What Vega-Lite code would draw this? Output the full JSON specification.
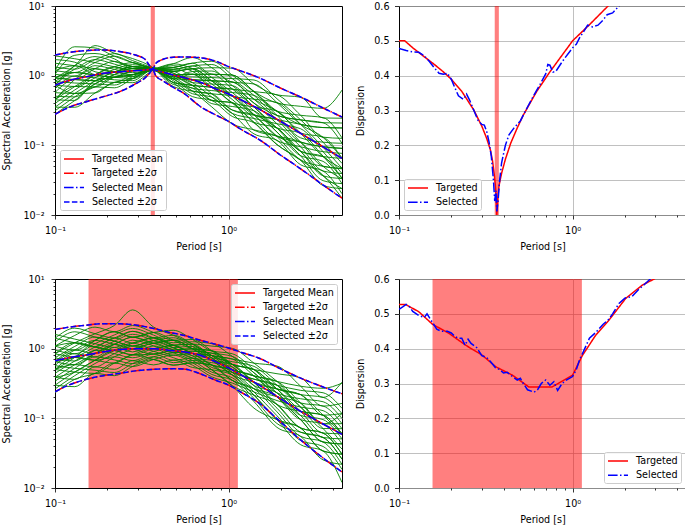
{
"$schema": "https://vega.github.io/schema/vega-lite/v6.json",
"background": "white",
"padding": {"left": 1, "top": 0, "right": 3, "bottom": 2},
"config": {
  "font": "DejaVu Sans",
  "view": {"stroke": "black", "strokeWidth": 1},
  "axis": {"domain": false, "tickColor": "black", "tickWidth": 0.8, "gridColor": "#b0b0b0", "gridWidth": 0.8, "labelFont": "DejaVu Sans", "labelFontSize": 9.6, "labelColor": "black", "titleFont": "DejaVu Sans", "titleFontSize": 9.6, "titleFontWeight": "normal", "titleColor": "black", "labelPadding": 6, "titlePadding": 6.5},
  "legend": {"title": null, "fillColor": "rgba(255,255,255,0.85)", "strokeColor": "#cccccc", "cornerRadius": 2, "padding": 3, "offset": 5, "symbolType": "M-1,0H3", "symbolSize": 100, "symbolStrokeWidth": 1.5, "labelFont": "DejaVu Sans", "labelFontSize": 9.6, "labelColor": "black", "rowPadding": 3.3, "labelOffset": 17}
},
"resolve": {"scale": {"color": "independent", "strokeDash": "independent"}, "legend": {"color": "independent", "strokeDash": "independent"}},
"datasets": {
"tlg": [
{"s":1,"t":0.1,"v":1.18},{"s":1,"t":0.13,"v":2.6},{"s":1,"t":0.17,"v":2.5},{"s":1,"t":0.22,"v":1.9},{"s":1,"t":0.28,"v":1.54},{"s":1,"t":0.365,"v":1.28},{"s":1,"t":0.48,"v":1.16},{"s":1,"t":0.62,"v":0.88},{"s":1,"t":0.8,"v":0.85},{"s":1,"t":1.05,"v":0.81},{"s":1,"t":1.4,"v":0.46},{"s":1,"t":1.9,"v":0.235},{"s":1,"t":2.6,"v":0.112},{"s":1,"t":3.5,"v":0.096},{"s":1,"t":4.5,"v":0.091},
{"s":2,"t":0.1,"v":0.45},{"s":2,"t":0.13,"v":0.7},{"s":2,"t":0.17,"v":0.69},{"s":2,"t":0.22,"v":0.95},{"s":2,"t":0.28,"v":1.03},{"s":2,"t":0.365,"v":1.22},{"s":2,"t":0.48,"v":0.79},{"s":2,"t":0.62,"v":0.5},{"s":2,"t":0.8,"v":0.44},{"s":2,"t":1.05,"v":0.26},{"s":2,"t":1.4,"v":0.21},{"s":2,"t":1.9,"v":0.103},{"s":2,"t":2.6,"v":0.061},{"s":2,"t":3.5,"v":0.037},{"s":2,"t":4.5,"v":0.0175},
{"s":3,"t":0.1,"v":0.93},{"s":3,"t":0.13,"v":0.88},{"s":3,"t":0.17,"v":1.26},{"s":3,"t":0.22,"v":1.6},{"s":3,"t":0.28,"v":1.35},{"s":3,"t":0.365,"v":1.25},{"s":3,"t":0.48,"v":1.31},{"s":3,"t":0.62,"v":1.51},{"s":3,"t":0.8,"v":1.05},{"s":3,"t":1.05,"v":1.02},{"s":3,"t":1.4,"v":0.59},{"s":3,"t":1.9,"v":0.31},{"s":3,"t":2.6,"v":0.27},{"s":3,"t":3.5,"v":0.25},{"s":3,"t":4.5,"v":0.128},
{"s":4,"t":0.1,"v":0.28},{"s":4,"t":0.13,"v":0.44},{"s":4,"t":0.17,"v":0.69},{"s":4,"t":0.22,"v":0.67},{"s":4,"t":0.28,"v":0.91},{"s":4,"t":0.365,"v":1.2},{"s":4,"t":0.48,"v":1.15},{"s":4,"t":0.62,"v":1.26},{"s":4,"t":0.8,"v":0.84},{"s":4,"t":1.05,"v":0.51},{"s":4,"t":1.4,"v":0.46},{"s":4,"t":1.9,"v":0.41},{"s":4,"t":2.6,"v":0.2},{"s":4,"t":3.5,"v":0.094},{"s":4,"t":4.5,"v":0.047},
{"s":5,"t":0.1,"v":0.73},{"s":5,"t":0.13,"v":1.11},{"s":5,"t":0.17,"v":1.03},{"s":5,"t":0.22,"v":0.95},{"s":5,"t":0.28,"v":1.18},{"s":5,"t":0.365,"v":1.3},{"s":5,"t":0.48,"v":0.9},{"s":5,"t":0.62,"v":0.87},{"s":5,"t":0.8,"v":0.55},{"s":5,"t":1.05,"v":0.32},{"s":5,"t":1.4,"v":0.27},{"s":5,"t":1.9,"v":0.235},{"s":5,"t":2.6,"v":0.2},{"s":5,"t":3.5,"v":0.18},{"s":5,"t":4.5,"v":0.178},
{"s":6,"t":0.1,"v":1.51},{"s":6,"t":0.13,"v":1.39},{"s":6,"t":0.17,"v":1.26},{"s":6,"t":0.22,"v":1.13},{"s":6,"t":0.28,"v":1.35},{"s":6,"t":0.365,"v":1.26},{"s":6,"t":0.48,"v":1.02},{"s":6,"t":0.62,"v":0.72},{"s":6,"t":0.8,"v":0.44},{"s":6,"t":1.05,"v":0.41},{"s":6,"t":1.4,"v":0.165},{"s":6,"t":1.9,"v":0.136},{"s":6,"t":2.6,"v":0.11},{"s":6,"t":3.5,"v":0.05},{"s":6,"t":4.5,"v":0.033},
{"s":7,"t":0.1,"v":0.57},{"s":7,"t":0.13,"v":0.556},{"s":7,"t":0.17,"v":0.565},{"s":7,"t":0.22,"v":0.8},{"s":7,"t":0.28,"v":0.793},{"s":7,"t":0.365,"v":1.19},{"s":7,"t":0.48,"v":1.48},{"s":7,"t":0.62,"v":1.82},{"s":7,"t":0.8,"v":1.3},{"s":7,"t":1.05,"v":0.81},{"s":7,"t":1.4,"v":0.76},{"s":7,"t":1.9,"v":0.41},{"s":7,"t":2.6,"v":0.2},{"s":7,"t":3.5,"v":0.13},{"s":7,"t":4.5,"v":0.066},
{"s":8,"t":0.1,"v":0.93},{"s":8,"t":0.13,"v":1.39},{"s":8,"t":0.17,"v":2.7},{"s":8,"t":0.22,"v":2.1},{"s":8,"t":0.28,"v":1.76},{"s":8,"t":0.365,"v":1.31},{"s":8,"t":0.48,"v":0.7},{"s":8,"t":0.62,"v":0.6},{"s":8,"t":0.8,"v":0.55},{"s":8,"t":1.05,"v":0.51},{"s":8,"t":1.4,"v":0.275},{"s":8,"t":1.9,"v":0.134},{"s":8,"t":2.6,"v":0.062},{"s":8,"t":3.5,"v":0.05},{"s":8,"t":4.5,"v":0.046},
{"s":9,"t":0.1,"v":0.353},{"s":9,"t":0.13,"v":0.556},{"s":9,"t":0.17,"v":0.843},{"s":9,"t":0.22,"v":1.13},{"s":9,"t":0.28,"v":1.35},{"s":9,"t":0.365,"v":1.24},{"s":9,"t":0.48,"v":1.03},{"s":9,"t":0.62,"v":1.05},{"s":9,"t":0.8,"v":0.68},{"s":9,"t":1.05,"v":0.64},{"s":9,"t":1.4,"v":0.59},{"s":9,"t":1.9,"v":0.53},{"s":9,"t":2.6,"v":0.27},{"s":9,"t":3.5,"v":0.131},{"s":9,"t":4.5,"v":0.126},
{"s":10,"t":0.1,"v":0.73},{"s":10,"t":0.13,"v":0.7},{"s":10,"t":0.17,"v":1.03},{"s":10,"t":0.22,"v":1.34},{"s":10,"t":0.28,"v":1.18},{"s":10,"t":0.365,"v":1.27},{"s":10,"t":0.48,"v":1.3},{"s":10,"t":0.62,"v":1.04},{"s":10,"t":0.8,"v":1.05},{"s":10,"t":1.05,"v":0.645},{"s":10,"t":1.4,"v":0.355},{"s":10,"t":1.9,"v":0.178},{"s":10,"t":2.6,"v":0.149},{"s":10,"t":3.5,"v":0.07},{"s":10,"t":4.5,"v":0.034},
{"s":11,"t":0.1,"v":0.45},{"s":11,"t":0.13,"v":0.88},{"s":11,"t":0.17,"v":1.26},{"s":11,"t":0.22,"v":1.13},{"s":11,"t":0.28,"v":1.03},{"s":11,"t":0.365,"v":1.23},{"s":11,"t":0.48,"v":0.9},{"s":11,"t":0.62,"v":0.6},{"s":11,"t":0.8,"v":0.356},{"s":11,"t":1.05,"v":0.204},{"s":11,"t":1.4,"v":0.167},{"s":11,"t":1.9,"v":0.135},{"s":11,"t":2.6,"v":0.082},{"s":11,"t":3.5,"v":0.0365},{"s":11,"t":4.5,"v":0.024},
{"s":12,"t":0.1,"v":1.18},{"s":12,"t":0.13,"v":1.11},{"s":12,"t":0.17,"v":1.54},{"s":12,"t":0.22,"v":1.9},{"s":12,"t":0.28,"v":1.54},{"s":12,"t":0.365,"v":1.29},{"s":12,"t":0.48,"v":1.16},{"s":12,"t":0.62,"v":1.26},{"s":12,"t":0.8,"v":1.3},{"s":12,"t":1.05,"v":1.28},{"s":12,"t":1.4,"v":0.76},{"s":12,"t":1.9,"v":0.53},{"s":12,"t":2.6,"v":0.49},{"s":12,"t":3.5,"v":0.247},{"s":12,"t":4.5,"v":0.245},
{"s":13,"t":0.1,"v":0.573},{"s":13,"t":0.13,"v":0.879},{"s":13,"t":0.17,"v":0.843},{"s":13,"t":0.22,"v":0.8},{"s":13,"t":0.28,"v":1.034},{"s":13,"t":0.365,"v":1.21},{"s":13,"t":0.48,"v":1.01},{"s":13,"t":0.62,"v":0.73},{"s":13,"t":0.8,"v":0.68},{"s":13,"t":1.05,"v":0.41},{"s":13,"t":1.4,"v":0.356},{"s":13,"t":1.9,"v":0.31},{"s":13,"t":2.6,"v":0.15},{"s":13,"t":3.5,"v":0.131},{"s":13,"t":4.5,"v":0.065},
{"s":14,"t":0.1,"v":1.92},{"s":14,"t":0.13,"v":1.75},{"s":14,"t":0.17,"v":1.54},{"s":14,"t":0.22,"v":1.34},{"s":14,"t":0.28,"v":1.18},{"s":14,"t":0.365,"v":1.25},{"s":14,"t":0.48,"v":1.15},{"s":14,"t":0.62,"v":1.25},{"s":14,"t":0.8,"v":0.84},{"s":14,"t":1.05,"v":0.51},{"s":14,"t":1.4,"v":0.275},{"s":14,"t":1.9,"v":0.136},{"s":14,"t":2.6,"v":0.111},{"s":14,"t":3.5,"v":0.095},{"s":14,"t":4.5,"v":0.09},
{"s":15,"t":0.1,"v":0.353},{"s":15,"t":0.13,"v":0.352},{"s":15,"t":0.17,"v":0.565},{"s":15,"t":0.22,"v":0.8},{"s":15,"t":0.28,"v":0.906},{"s":15,"t":0.365,"v":1.2},{"s":15,"t":0.48,"v":0.8},{"s":15,"t":0.62,"v":0.72},{"s":15,"t":0.8,"v":0.445},{"s":15,"t":1.05,"v":0.405},{"s":15,"t":1.4,"v":0.214},{"s":15,"t":1.9,"v":0.177},{"s":15,"t":2.6,"v":0.082},{"s":15,"t":3.5,"v":0.069},{"s":15,"t":4.5,"v":0.0335},
{"s":16,"t":0.1,"v":0.929},{"s":16,"t":0.13,"v":1.107},{"s":16,"t":0.17,"v":1.03},{"s":16,"t":0.22,"v":1.13},{"s":16,"t":0.28,"v":1.349},{"s":16,"t":0.365,"v":1.27},{"s":16,"t":0.48,"v":1.48},{"s":16,"t":0.62,"v":1.26},{"s":16,"t":0.8,"v":0.845},{"s":16,"t":1.05,"v":0.81},{"s":16,"t":1.4,"v":0.458},{"s":16,"t":1.9,"v":0.308},{"s":16,"t":2.6,"v":0.149},{"s":16,"t":3.5,"v":0.069},{"s":16,"t":4.5,"v":0.0466},
{"s":17,"t":0.1,"v":0.73},{"s":17,"t":0.13,"v":1.39},{"s":17,"t":0.17,"v":1.879},{"s":17,"t":0.22,"v":1.596},{"s":17,"t":0.28,"v":1.349},{"s":17,"t":0.365,"v":1.3},{"s":17,"t":0.48,"v":0.9},{"s":17,"t":0.62,"v":0.6},{"s":17,"t":0.8,"v":0.548},{"s":17,"t":1.05,"v":0.322},{"s":17,"t":1.4,"v":0.275},{"s":17,"t":1.9,"v":0.177},{"s":17,"t":2.6,"v":0.0822},{"s":17,"t":3.5,"v":0.0365},{"s":17,"t":4.5,"v":0.0333},
{"s":18,"t":0.1,"v":0.45},{"s":18,"t":0.13,"v":0.442},{"s":18,"t":0.17,"v":0.843},{"s":18,"t":0.22,"v":0.95},{"s":18,"t":0.28,"v":1.18},{"s":18,"t":0.365,"v":1.24},{"s":18,"t":0.48,"v":1.02},{"s":18,"t":0.62,"v":1.047},{"s":18,"t":0.8,"v":1.047},{"s":18,"t":1.05,"v":1.019},{"s":18,"t":1.4,"v":0.592},{"s":18,"t":1.9,"v":0.308},{"s":18,"t":2.6,"v":0.2},{"s":18,"t":3.5,"v":0.18},{"s":18,"t":4.5,"v":0.177},
{"s":19,"t":0.1,"v":1.183},{"s":19,"t":0.13,"v":1.39},{"s":19,"t":0.17,"v":1.03},{"s":19,"t":0.22,"v":0.95},{"s":19,"t":0.28,"v":1.034},{"s":19,"t":0.365,"v":1.22},{"s":19,"t":0.48,"v":0.796},{"s":19,"t":0.62,"v":0.724},{"s":19,"t":0.8,"v":0.68},{"s":19,"t":1.05,"v":0.643},{"s":19,"t":1.4,"v":0.356},{"s":19,"t":1.9,"v":0.177},{"s":19,"t":2.6,"v":0.0822},{"s":19,"t":3.5,"v":0.069},{"s":19,"t":4.5,"v":0.065},
{"s":20,"t":0.1,"v":0.45},{"s":20,"t":0.13,"v":0.698},{"s":20,"t":0.17,"v":1.03},{"s":20,"t":0.22,"v":1.343},{"s":20,"t":0.28,"v":1.538},{"s":20,"t":0.365,"v":1.26},{"s":20,"t":0.48,"v":1.309},{"s":20,"t":0.62,"v":1.514},{"s":20,"t":0.8,"v":1.61},{"s":20,"t":1.05,"v":1.019},{"s":20,"t":1.4,"v":0.592},{"s":20,"t":1.9,"v":0.406},{"s":20,"t":2.6,"v":0.363},{"s":20,"t":3.5,"v":0.34},{"s":20,"t":4.5,"v":0.62},
{"s":21,"t":0.1,"v":0.73},{"s":21,"t":0.13,"v":0.556},{"s":21,"t":0.17,"v":0.69},{"s":21,"t":0.22,"v":0.95},{"s":21,"t":0.28,"v":0.906},{"s":21,"t":0.365,"v":1.19},{"s":21,"t":0.48,"v":0.902},{"s":21,"t":0.62,"v":1.047},{"s":21,"t":0.8,"v":0.68},{"s":21,"t":1.05,"v":0.406},{"s":21,"t":1.4,"v":0.214},{"s":21,"t":1.9,"v":0.102},{"s":21,"t":2.6,"v":0.0611},{"s":21,"t":3.5,"v":0.0265},{"s":21,"t":4.5,"v":0.0239},
{"s":22,"t":0.1,"v":0.929},{"s":22,"t":0.13,"v":0.879},{"s":22,"t":0.17,"v":0.843},{"s":22,"t":0.22,"v":1.13},{"s":22,"t":0.28,"v":1.034},{"s":22,"t":0.365,"v":1.23},{"s":22,"t":0.48,"v":1.02},{"s":22,"t":0.62,"v":0.87},{"s":22,"t":0.8,"v":0.844},{"s":22,"t":1.05,"v":0.51},{"s":22,"t":1.4,"v":0.275},{"s":22,"t":1.9,"v":0.234},{"s":22,"t":2.6,"v":0.111},{"s":22,"t":3.5,"v":0.0502},{"s":22,"t":4.5,"v":0.0466},
{"s":23,"t":0.1,"v":0.823},{"s":23,"t":0.13,"v":1.24},{"s":23,"t":0.17,"v":1.7},{"s":23,"t":0.22,"v":1.464},{"s":23,"t":0.28,"v":1.262},{"s":23,"t":0.365,"v":1.27},{"s":23,"t":0.48,"v":0.959},{"s":23,"t":0.62,"v":0.661},{"s":23,"t":0.8,"v":0.611},{"s":23,"t":1.05,"v":0.573},{"s":23,"t":1.4,"v":0.521},{"s":23,"t":1.9,"v":0.269},{"s":23,"t":2.6,"v":0.128},{"s":23,"t":3.5,"v":0.111},{"s":23,"t":4.5,"v":0.107},
{"s":24,"t":0.1,"v":0.399},{"s":24,"t":0.13,"v":0.624},{"s":24,"t":0.17,"v":0.932},{"s":24,"t":0.22,"v":1.232},{"s":24,"t":0.28,"v":1.439},{"s":24,"t":0.365,"v":1.29},{"s":24,"t":0.48,"v":1.23},{"s":24,"t":0.62,"v":1.38},{"s":24,"t":0.8,"v":0.94},{"s":24,"t":1.05,"v":0.573},{"s":24,"t":1.4,"v":0.313},{"s":24,"t":1.9,"v":0.155},{"s":24,"t":2.6,"v":0.0708},{"s":24,"t":3.5,"v":0.0589},{"s":24,"t":4.5,"v":0.0282},
{"s":25,"t":0.1,"v":1.7},{"s":25,"t":0.13,"v":1.56},{"s":25,"t":0.17,"v":1.139},{"s":25,"t":0.22,"v":1.036},{"s":25,"t":0.28,"v":0.968},{"s":25,"t":0.365,"v":1.2},{"s":25,"t":0.48,"v":0.959},{"s":25,"t":0.62,"v":0.955},{"s":25,"t":0.8,"v":0.94},{"s":25,"t":1.05,"v":0.908},{"s":25,"t":1.4,"v":0.867},{"s":25,"t":1.9,"v":0.466},{"s":25,"t":2.6,"v":0.232},{"s":25,"t":3.5,"v":0.111},{"s":25,"t":4.5,"v":0.055},
{"s":26,"t":0.1,"v":0.646},{"s":26,"t":0.13,"v":0.986},{"s":26,"t":0.17,"v":0.932},{"s":26,"t":0.22,"v":0.872},{"s":26,"t":0.28,"v":0.848},{"s":26,"t":0.365,"v":1.21},{"s":26,"t":0.48,"v":0.748},{"s":26,"t":0.62,"v":0.661},{"s":26,"t":0.8,"v":0.397},{"s":26,"t":1.05,"v":0.361},{"s":26,"t":1.4,"v":0.313},{"s":26,"t":1.9,"v":0.155},{"s":26,"t":2.6,"v":0.0708},{"s":26,"t":3.5,"v":0.0311},{"s":26,"t":4.5,"v":0.0282},
{"s":27,"t":0.1,"v":1.048},{"s":27,"t":0.13,"v":1.96},{"s":27,"t":0.17,"v":2.08},{"s":27,"t":0.22,"v":1.74},{"s":27,"t":0.28,"v":1.262},{"s":27,"t":0.365,"v":1.26},{"s":27,"t":0.48,"v":1.086},{"s":27,"t":0.62,"v":0.794},{"s":27,"t":0.8,"v":0.759},{"s":27,"t":1.05,"v":0.721},{"s":27,"t":1.4,"v":0.404},{"s":27,"t":1.9,"v":0.269},{"s":27,"t":2.6,"v":0.232},{"s":27,"t":3.5,"v":0.211},{"s":27,"t":4.5,"v":0.209},
{"s":28,"t":0.1,"v":0.313},{"s":28,"t":0.13,"v":0.496},{"s":28,"t":0.17,"v":0.762},{"s":28,"t":0.22,"v":1.036},{"s":28,"t":0.28,"v":1.262},{"s":28,"t":0.365,"v":1.23},{"s":28,"t":0.48,"v":1.393},{"s":28,"t":0.62,"v":1.148},{"s":28,"t":0.8,"v":0.759},{"s":28,"t":1.05,"v":0.455},{"s":28,"t":1.4,"v":0.243},{"s":28,"t":1.9,"v":0.1175},{"s":28,"t":2.6,"v":0.0953},{"s":28,"t":3.5,"v":0.0811},{"s":28,"t":4.5,"v":0.0767},
{"s":29,"t":0.1,"v":0.823},{"s":29,"t":0.13,"v":0.784},{"s":29,"t":0.17,"v":0.762},{"s":29,"t":0.22,"v":0.734},{"s":29,"t":0.28,"v":0.968},{"s":29,"t":0.365,"v":1.18},{"s":29,"t":0.48,"v":0.959},{"s":29,"t":0.62,"v":1.148},{"s":29,"t":0.8,"v":1.166},{"s":29,"t":1.05,"v":0.721},{"s":29,"t":1.4,"v":0.404},{"s":29,"t":1.9,"v":0.204},{"s":29,"t":2.6,"v":0.0953},{"s":29,"t":3.5,"v":0.0428},{"s":29,"t":4.5,"v":0.0394},
{"s":30,"t":0.1,"v":1.335},{"s":30,"t":0.13,"v":1.24},{"s":30,"t":0.17,"v":1.7},{"s":30,"t":0.22,"v":2.07},{"s":30,"t":0.28,"v":1.644},{"s":30,"t":0.365,"v":1.3},{"s":30,"t":0.48,"v":1.086},{"s":30,"t":0.62,"v":0.794},{"s":30,"t":0.8,"v":0.493},{"s":30,"t":1.05,"v":0.287},{"s":30,"t":1.4,"v":0.146},{"s":30,"t":1.9,"v":0.1175},{"s":30,"t":2.6,"v":0.0526},{"s":30,"t":3.5,"v":0.0428},{"s":30,"t":4.5,"v":0.0202},
{"s":31,"t":0.1,"v":0.508},{"s":31,"t":0.13,"v":0.496},{"s":31,"t":0.17,"v":0.762},{"s":31,"t":0.22,"v":1.036},{"s":31,"t":0.28,"v":1.262},{"s":31,"t":0.365,"v":1.25},{"s":31,"t":0.48,"v":1.23},{"s":31,"t":0.62,"v":1.38},{"s":31,"t":0.8,"v":1.446},{"s":31,"t":1.05,"v":0.908},{"s":31,"t":1.4,"v":0.521},{"s":31,"t":1.9,"v":0.269},{"s":31,"t":2.6,"v":0.232},{"s":31,"t":3.5,"v":0.211},{"s":31,"t":4.5,"v":0.107},
{"s":32,"t":0.1,"v":1.048},{"s":32,"t":0.13,"v":0.986},{"s":32,"t":0.17,"v":1.392},{"s":32,"t":0.22,"v":1.232},{"s":32,"t":0.28,"v":1.104},{"s":32,"t":0.365,"v":1.22},{"s":32,"t":0.48,"v":0.848},{"s":32,"t":0.62,"v":0.55},{"s":32,"t":0.8,"v":0.493},{"s":32,"t":1.05,"v":0.287},{"s":32,"t":1.4,"v":0.243},{"s":32,"t":1.9,"v":0.204},{"s":32,"t":2.6,"v":0.173},{"s":32,"t":3.5,"v":0.0811},{"s":32,"t":4.5,"v":0.0394}
],
"blg": [
{"s":1,"t":0.1,"v":0.841},{"s":1,"t":0.13,"v":1.216},{"s":1,"t":0.17,"v":1.637},{"s":1,"t":0.22,"v":2.153},{"s":1,"t":0.28,"v":3.6},{"s":1,"t":0.37,"v":2.042},{"s":1,"t":0.48,"v":1.558},{"s":1,"t":0.62,"v":1.16},{"s":1,"t":0.8,"v":0.796},{"s":1,"t":1.05,"v":0.595},{"s":1,"t":1.4,"v":0.328},{"s":1,"t":1.9,"v":0.264},{"s":1,"t":2.6,"v":0.219},{"s":1,"t":3.5,"v":0.2},{"s":1,"t":4.5,"v":0.117},
{"s":2,"t":0.1,"v":0.388},{"s":2,"t":0.13,"v":0.363},{"s":2,"t":0.17,"v":0.548},{"s":2,"t":0.22,"v":0.505},{"s":2,"t":0.28,"v":0.673},{"s":2,"t":0.37,"v":0.585},{"s":2,"t":0.48,"v":0.684},{"s":2,"t":0.62,"v":0.537},{"s":2,"t":0.8,"v":0.498},{"s":2,"t":1.05,"v":0.419},{"s":2,"t":1.4,"v":0.215},{"s":2,"t":1.9,"v":0.0957},{"s":2,"t":2.6,"v":0.0418},{"s":2,"t":3.5,"v":0.034},{"s":2,"t":4.5,"v":0.012},
{"s":3,"t":0.1,"v":0.65},{"s":3,"t":0.13,"v":0.955},{"s":3,"t":0.17,"v":0.849},{"s":3,"t":0.22,"v":1.156},{"s":3,"t":0.28,"v":1.459},{"s":3,"t":0.37,"v":1.195},{"s":3,"t":0.48,"v":1.321},{"s":3,"t":0.62,"v":0.995},{"s":3,"t":0.8,"v":0.681},{"s":3,"t":1.05,"v":0.595},{"s":3,"t":1.4,"v":0.501},{"s":3,"t":1.9,"v":0.437},{"s":3,"t":2.6,"v":0.381},{"s":3,"t":3.5,"v":0.2},{"s":3,"t":4.5,"v":0.33},
{"s":4,"t":0.1,"v":0.3},{"s":4,"t":0.13,"v":0.462},{"s":4,"t":0.17,"v":0.682},{"s":4,"t":0.22,"v":0.94},{"s":4,"t":0.28,"v":0.817},{"s":4,"t":0.37,"v":1.0},{"s":4,"t":0.48,"v":1.121},{"s":4,"t":0.62,"v":1.162},{"s":4,"t":0.8,"v":0.796},{"s":4,"t":1.05,"v":0.71},{"s":4,"t":1.4,"v":0.406},{"s":4,"t":1.9,"v":0.204},{"s":4,"t":2.6,"v":0.0957},{"s":4,"t":3.5,"v":0.083},{"s":4,"t":4.5,"v":0.0429},
{"s":5,"t":0.1,"v":1.409},{"s":5,"t":0.13,"v":1.216},{"s":5,"t":0.17,"v":1.057},{"s":5,"t":0.22,"v":1.422},{"s":5,"t":0.28,"v":1.202},{"s":5,"t":0.37,"v":1.429},{"s":5,"t":0.48,"v":1.121},{"s":5,"t":0.62,"v":0.853},{"s":5,"t":0.8,"v":0.582},{"s":5,"t":1.05,"v":0.351},{"s":5,"t":1.4,"v":0.266},{"s":5,"t":1.9,"v":0.124},{"s":5,"t":2.6,"v":0.055},{"s":5,"t":3.5,"v":0.0458},{"s":5,"t":4.5,"v":0.0219},
{"s":6,"t":0.1,"v":0.502},{"s":6,"t":0.13,"v":0.75},{"s":6,"t":0.17,"v":0.682},{"s":6,"t":0.22,"v":0.621},{"s":6,"t":0.28,"v":0.817},{"s":6,"t":0.37,"v":0.7},{"s":6,"t":0.48,"v":0.58},{"s":6,"t":0.62,"v":0.627},{"s":6,"t":0.8,"v":0.582},{"s":6,"t":1.05,"v":0.499},{"s":6,"t":1.4,"v":0.406},{"s":6,"t":1.9,"v":0.339},{"s":6,"t":2.6,"v":0.166},{"s":6,"t":3.5,"v":0.083},{"s":6,"t":4.5,"v":0.0839},
{"s":7,"t":0.1,"v":1.089},{"s":7,"t":0.13,"v":0.955},{"s":7,"t":0.17,"v":1.315},{"s":7,"t":0.22,"v":1.75},{"s":7,"t":0.28,"v":1.459},{"s":7,"t":0.37,"v":1.708},{"s":7,"t":0.48,"v":1.837},{"s":7,"t":0.62,"v":1.355},{"s":7,"t":0.8,"v":0.931},{"s":7,"t":1.05,"v":0.846},{"s":7,"t":1.4,"v":0.501},{"s":7,"t":1.9,"v":0.264},{"s":7,"t":2.6,"v":0.219},{"s":7,"t":3.5,"v":0.111},{"s":7,"t":4.5,"v":0.06},
{"s":8,"t":0.1,"v":0.232},{"s":8,"t":0.13,"v":0.363},{"s":8,"t":0.17,"v":0.441},{"s":8,"t":0.22,"v":0.621},{"s":8,"t":0.28,"v":0.555},{"s":8,"t":0.37,"v":0.7},{"s":8,"t":0.48,"v":0.806},{"s":8,"t":0.62,"v":0.627},{"s":8,"t":0.8,"v":0.426},{"s":8,"t":1.05,"v":0.351},{"s":8,"t":1.4,"v":0.174},{"s":8,"t":1.9,"v":0.0742},{"s":8,"t":2.6,"v":0.055},{"s":8,"t":3.5,"v":0.0253},{"s":8,"t":4.5,"v":0.0219},
{"s":9,"t":0.1,"v":0.65},{"s":9,"t":0.13,"v":0.589},{"s":9,"t":0.17,"v":0.849},{"s":9,"t":0.22,"v":1.156},{"s":9,"t":0.28,"v":0.991},{"s":9,"t":0.37,"v":0.837},{"s":9,"t":0.48,"v":0.951},{"s":9,"t":0.62,"v":0.995},{"s":9,"t":0.8,"v":0.931},{"s":9,"t":1.05,"v":0.595},{"s":9,"t":1.4,"v":0.329},{"s":9,"t":1.9,"v":0.158},{"s":9,"t":2.6,"v":0.126},{"s":9,"t":3.5,"v":0.111},{"s":9,"t":4.5,"v":0.06},
{"s":10,"t":0.1,"v":0.841},{"s":10,"t":0.13,"v":1.216},{"s":10,"t":0.17,"v":1.057},{"s":10,"t":0.22,"v":0.94},{"s":10,"t":0.28,"v":1.202},{"s":10,"t":0.37,"v":1.429},{"s":10,"t":0.48,"v":1.121},{"s":10,"t":0.62,"v":1.162},{"s":10,"t":0.8,"v":1.089},{"s":10,"t":1.05,"v":1.01},{"s":10,"t":1.4,"v":0.62},{"s":10,"t":1.9,"v":0.339},{"s":10,"t":2.6,"v":0.166},{"s":10,"t":3.5,"v":0.15},{"s":10,"t":4.5,"v":0.0839},
{"s":11,"t":0.1,"v":0.388},{"s":11,"t":0.13,"v":0.589},{"s":11,"t":0.17,"v":0.849},{"s":11,"t":0.22,"v":1.156},{"s":11,"t":0.28,"v":1.459},{"s":11,"t":0.37,"v":1.195},{"s":11,"t":0.48,"v":0.951},{"s":11,"t":0.62,"v":0.731},{"s":11,"t":0.8,"v":0.498},{"s":11,"t":1.05,"v":0.294},{"s":11,"t":1.4,"v":0.215},{"s":11,"t":1.9,"v":0.158},{"s":11,"t":2.6,"v":0.0726},{"s":11,"t":3.5,"v":0.0615},{"s":11,"t":4.5,"v":0.0306},
{"s":12,"t":0.1,"v":1.409},{"s":12,"t":0.13,"v":1.972},{"s":12,"t":0.17,"v":1.637},{"s":12,"t":0.22,"v":1.422},{"s":12,"t":0.28,"v":1.77},{"s":12,"t":0.37,"v":1.429},{"s":12,"t":0.48,"v":1.558},{"s":12,"t":0.62,"v":1.162},{"s":12,"t":0.8,"v":0.796},{"s":12,"t":1.05,"v":0.499},{"s":12,"t":1.4,"v":0.406},{"s":12,"t":1.9,"v":0.204},{"s":12,"t":2.6,"v":0.0957},{"s":12,"t":3.5,"v":0.0458},{"s":12,"t":4.5,"v":0.0429},
{"s":13,"t":0.1,"v":0.502},{"s":13,"t":0.13,"v":0.462},{"s":13,"t":0.17,"v":0.441},{"s":13,"t":0.22,"v":0.621},{"s":13,"t":0.28,"v":0.817},{"s":13,"t":0.37,"v":1.0},{"s":13,"t":0.48,"v":0.806},{"s":13,"t":0.62,"v":0.853},{"s":13,"t":0.8,"v":0.796},{"s":13,"t":1.05,"v":0.499},{"s":13,"t":1.4,"v":0.266},{"s":13,"t":1.9,"v":0.204},{"s":13,"t":2.6,"v":0.166},{"s":13,"t":3.5,"v":0.083},{"s":13,"t":4.5,"v":0.117},
{"s":14,"t":0.1,"v":0.65},{"s":14,"t":0.13,"v":0.75},{"s":14,"t":0.17,"v":1.057},{"s":14,"t":0.22,"v":1.422},{"s":14,"t":0.28,"v":1.77},{"s":14,"t":0.37,"v":1.429},{"s":14,"t":0.48,"v":1.121},{"s":14,"t":0.62,"v":0.853},{"s":14,"t":0.8,"v":0.582},{"s":14,"t":1.05,"v":0.499},{"s":14,"t":1.4,"v":0.406},{"s":14,"t":1.9,"v":0.339},{"s":14,"t":2.6,"v":0.289},{"s":14,"t":3.5,"v":0.27},{"s":14,"t":4.5,"v":0.32},
{"s":15,"t":0.1,"v":0.3},{"s":15,"t":0.13,"v":0.285},{"s":15,"t":0.17,"v":0.441},{"s":15,"t":0.22,"v":0.41},{"s":15,"t":0.28,"v":0.555},{"s":15,"t":0.37,"v":0.7},{"s":15,"t":0.48,"v":0.58},{"s":15,"t":0.62,"v":0.627},{"s":15,"t":0.8,"v":0.582},{"s":15,"t":1.05,"v":0.351},{"s":15,"t":1.4,"v":0.266},{"s":15,"t":1.9,"v":0.204},{"s":15,"t":2.6,"v":0.0957},{"s":15,"t":3.5,"v":0.0458},{"s":15,"t":4.5,"v":0.0429},
{"s":16,"t":0.1,"v":1.089},{"s":16,"t":0.13,"v":1.216},{"s":16,"t":0.17,"v":1.057},{"s":16,"t":0.22,"v":0.94},{"s":16,"t":0.28,"v":0.817},{"s":16,"t":0.37,"v":0.837},{"s":16,"t":0.48,"v":0.951},{"s":16,"t":0.62,"v":0.995},{"s":16,"t":0.8,"v":0.681},{"s":16,"t":1.05,"v":0.419},{"s":16,"t":1.4,"v":0.215},{"s":16,"t":1.9,"v":0.0957},{"s":16,"t":2.6,"v":0.0726},{"s":16,"t":3.5,"v":0.034},{"s":16,"t":4.5,"v":0.0306},
{"s":17,"t":0.1,"v":0.502},{"s":17,"t":0.13,"v":0.75},{"s":17,"t":0.17,"v":1.315},{"s":17,"t":0.22,"v":1.75},{"s":17,"t":0.28,"v":1.459},{"s":17,"t":0.37,"v":1.708},{"s":17,"t":0.48,"v":1.321},{"s":17,"t":0.62,"v":0.995},{"s":17,"t":0.8,"v":0.931},{"s":17,"t":1.05,"v":0.595},{"s":17,"t":1.4,"v":0.501},{"s":17,"t":1.9,"v":0.264},{"s":17,"t":2.6,"v":0.126},{"s":17,"t":3.5,"v":0.0615},{"s":17,"t":4.5,"v":0.06},
{"s":18,"t":0.1,"v":0.841},{"s":18,"t":0.13,"v":0.75},{"s":18,"t":0.17,"v":0.682},{"s":18,"t":0.22,"v":0.764},{"s":18,"t":0.28,"v":0.673},{"s":18,"t":0.37,"v":0.837},{"s":18,"t":0.48,"v":0.684},{"s":18,"t":0.62,"v":0.731},{"s":18,"t":0.8,"v":0.498},{"s":18,"t":1.05,"v":0.294},{"s":18,"t":1.4,"v":0.14},{"s":18,"t":1.9,"v":0.0957},{"s":18,"t":2.6,"v":0.0726},{"s":18,"t":3.5,"v":0.034},{"s":18,"t":4.5,"v":0.0306},
{"s":19,"t":0.1,"v":0.388},{"s":19,"t":0.13,"v":0.462},{"s":19,"t":0.17,"v":0.682},{"s":19,"t":0.22,"v":0.94},{"s":19,"t":0.28,"v":1.202},{"s":19,"t":0.37,"v":1.0},{"s":19,"t":0.48,"v":1.121},{"s":19,"t":0.62,"v":0.853},{"s":19,"t":0.8,"v":0.796},{"s":19,"t":1.05,"v":0.71},{"s":19,"t":1.4,"v":0.62},{"s":19,"t":1.9,"v":0.563},{"s":19,"t":2.6,"v":0.289},{"s":19,"t":3.5,"v":0.15},{"s":19,"t":4.5,"v":0.164},
{"s":20,"t":0.1,"v":0.65},{"s":20,"t":0.13,"v":0.955},{"s":20,"t":0.17,"v":1.315},{"s":20,"t":0.22,"v":1.156},{"s":20,"t":0.28,"v":0.991},{"s":20,"t":0.37,"v":1.195},{"s":20,"t":0.48,"v":0.951},{"s":20,"t":0.62,"v":0.731},{"s":20,"t":0.8,"v":0.681},{"s":20,"t":1.05,"v":0.595},{"s":20,"t":1.4,"v":0.329},{"s":20,"t":1.9,"v":0.158},{"s":20,"t":2.6,"v":0.0726},{"s":20,"t":3.5,"v":0.0615},{"s":20,"t":4.5,"v":0.0306},
{"s":21,"t":0.1,"v":1.089},{"s":21,"t":0.13,"v":1.549},{"s":21,"t":0.17,"v":2.037},{"s":21,"t":0.22,"v":1.75},{"s":21,"t":0.28,"v":2.148},{"s":21,"t":0.37,"v":1.708},{"s":21,"t":0.48,"v":1.321},{"s":21,"t":0.62,"v":1.355},{"s":21,"t":0.8,"v":0.931},{"s":21,"t":1.05,"v":0.595},{"s":21,"t":1.4,"v":0.501},{"s":21,"t":1.9,"v":0.264},{"s":21,"t":2.6,"v":0.126},{"s":21,"t":3.5,"v":0.111},{"s":21,"t":4.5,"v":0.06},
{"s":22,"t":0.1,"v":0.502},{"s":22,"t":0.13,"v":0.589},{"s":22,"t":0.17,"v":0.548},{"s":22,"t":0.22,"v":0.764},{"s":22,"t":0.28,"v":0.991},{"s":22,"t":0.37,"v":1.195},{"s":22,"t":0.48,"v":1.321},{"s":22,"t":0.62,"v":0.995},{"s":22,"t":0.8,"v":0.681},{"s":22,"t":1.05,"v":0.419},{"s":22,"t":1.4,"v":0.329},{"s":22,"t":1.9,"v":0.264},{"s":22,"t":2.6,"v":0.219},{"s":22,"t":3.5,"v":0.111},{"s":22,"t":4.5,"v":0.117},
{"s":23,"t":0.1,"v":0.74},{"s":23,"t":0.13,"v":1.078},{"s":23,"t":0.17,"v":1.467},{"s":23,"t":0.22,"v":1.282},{"s":23,"t":0.28,"v":1.091},{"s":23,"t":0.37,"v":1.306},{"s":23,"t":0.48,"v":1.435},{"s":23,"t":0.62,"v":1.074},{"s":23,"t":0.8,"v":0.736},{"s":23,"t":1.05,"v":0.457},{"s":23,"t":1.4,"v":0.365},{"s":23,"t":1.9,"v":0.299},{"s":23,"t":2.6,"v":0.145},{"s":23,"t":3.5,"v":0.0714},{"s":23,"t":4.5,"v":0.071},
{"s":24,"t":0.1,"v":0.341},{"s":24,"t":0.13,"v":0.522},{"s":24,"t":0.17,"v":0.761},{"s":24,"t":0.22,"v":0.689},{"s":24,"t":0.28,"v":0.611},{"s":24,"t":0.37,"v":0.765},{"s":24,"t":0.48,"v":0.875},{"s":24,"t":0.62,"v":0.921},{"s":24,"t":0.8,"v":0.861},{"s":24,"t":1.05,"v":0.545},{"s":24,"t":1.4,"v":0.295},{"s":24,"t":1.9,"v":0.14},{"s":24,"t":2.6,"v":0.0632},{"s":24,"t":3.5,"v":0.0531},{"s":24,"t":4.5,"v":0.0259},
{"s":25,"t":0.1,"v":1.603},{"s":25,"t":0.13,"v":1.372},{"s":25,"t":0.17,"v":1.179},{"s":25,"t":0.22,"v":1.042},{"s":25,"t":0.28,"v":1.324},{"s":25,"t":0.37,"v":1.094},{"s":25,"t":0.48,"v":0.875},{"s":25,"t":0.62,"v":0.921},{"s":25,"t":0.8,"v":0.861},{"s":25,"t":1.05,"v":0.775},{"s":25,"t":1.4,"v":0.451},{"s":25,"t":1.9,"v":0.232},{"s":25,"t":2.6,"v":0.191},{"s":25,"t":3.5,"v":0.173},{"s":25,"t":4.5,"v":0.0993},
{"s":26,"t":0.1,"v":0.571},{"s":26,"t":0.13,"v":0.522},{"s":26,"t":0.17,"v":0.491},{"s":26,"t":0.22,"v":0.455},{"s":26,"t":0.28,"v":0.611},{"s":26,"t":0.37,"v":0.765},{"s":26,"t":0.48,"v":0.63},{"s":26,"t":0.62,"v":0.676},{"s":26,"t":0.8,"v":0.63},{"s":26,"t":1.05,"v":0.545},{"s":26,"t":1.4,"v":0.295},{"s":26,"t":1.9,"v":0.232},{"s":26,"t":2.6,"v":0.11},{"s":26,"t":3.5,"v":0.096},{"s":26,"t":4.5,"v":0.0507},
{"s":27,"t":0.1,"v":0.957},{"s":27,"t":0.13,"v":0.846},{"s":27,"t":0.17,"v":1.179},{"s":27,"t":0.22,"v":1.578},{"s":27,"t":0.28,"v":1.95},{"s":27,"t":0.37,"v":1.563},{"s":27,"t":0.48,"v":1.216},{"s":27,"t":0.62,"v":1.256},{"s":27,"t":0.8,"v":1.178},{"s":27,"t":1.05,"v":0.775},{"s":27,"t":1.4,"v":0.451},{"s":27,"t":1.9,"v":0.232},{"s":27,"t":2.6,"v":0.11},{"s":27,"t":3.5,"v":0.0531},{"s":27,"t":4.5,"v":0.0507},
{"s":28,"t":0.1,"v":0.264},{"s":28,"t":0.13,"v":0.41},{"s":28,"t":0.17,"v":0.612},{"s":28,"t":0.22,"v":0.847},{"s":28,"t":0.28,"v":1.091},{"s":28,"t":0.37,"v":0.915},{"s":28,"t":0.48,"v":0.743},{"s":28,"t":0.62,"v":0.579},{"s":28,"t":0.8,"v":0.394},{"s":28,"t":1.05,"v":0.321},{"s":28,"t":1.4,"v":0.239},{"s":28,"t":1.9,"v":0.18},{"s":28,"t":2.6,"v":0.145},{"s":28,"t":3.5,"v":0.129},{"s":28,"t":4.5,"v":0.071},
{"s":29,"t":0.1,"v":0.74},{"s":29,"t":0.13,"v":0.665},{"s":29,"t":0.17,"v":0.947},{"s":29,"t":0.22,"v":0.847},{"s":29,"t":0.28,"v":0.741},{"s":29,"t":0.37,"v":0.915},{"s":29,"t":0.48,"v":1.032},{"s":29,"t":0.62,"v":1.074},{"s":29,"t":0.8,"v":0.736},{"s":29,"t":1.05,"v":0.457},{"s":29,"t":1.4,"v":0.239},{"s":29,"t":1.9,"v":0.109},{"s":29,"t":2.6,"v":0.048},{"s":29,"t":3.5,"v":0.0395},{"s":29,"t":4.5,"v":0.0185},
{"s":30,"t":0.1,"v":1.239},{"s":30,"t":0.13,"v":1.748},{"s":30,"t":0.17,"v":1.467},{"s":30,"t":0.22,"v":1.282},{"s":30,"t":0.28,"v":1.091},{"s":30,"t":0.37,"v":1.306},{"s":30,"t":0.48,"v":1.032},{"s":30,"t":0.62,"v":0.789},{"s":30,"t":0.8,"v":0.538},{"s":30,"t":1.05,"v":0.457},{"s":30,"t":1.4,"v":0.365},{"s":30,"t":1.9,"v":0.299},{"s":30,"t":2.6,"v":0.252},{"s":30,"t":3.5,"v":0.233},{"s":30,"t":4.5,"v":0.139},
{"s":31,"t":0.1,"v":0.442},{"s":31,"t":0.13,"v":0.665},{"s":31,"t":0.17,"v":0.947},{"s":31,"t":0.22,"v":1.282},{"s":31,"t":0.28,"v":1.607},{"s":31,"t":0.37,"v":1.306},{"s":31,"t":0.48,"v":1.032},{"s":31,"t":0.62,"v":0.789},{"s":31,"t":0.8,"v":0.736},{"s":31,"t":1.05,"v":0.65},{"s":31,"t":1.4,"v":0.557},{"s":31,"t":1.9,"v":0.299},{"s":31,"t":2.6,"v":0.145},{"s":31,"t":3.5,"v":0.0714},{"s":31,"t":4.5,"v":0.0362},
{"s":32,"t":0.1,"v":0.571},{"s":32,"t":0.13,"v":0.846},{"s":32,"t":0.17,"v":0.761},{"s":32,"t":0.22,"v":1.042},{"s":32,"t":0.28,"v":0.899},{"s":32,"t":0.37,"v":1.094},{"s":32,"t":0.48,"v":0.875},{"s":32,"t":0.62,"v":0.676},{"s":32,"t":0.8,"v":0.46},{"s":32,"t":1.05,"v":0.383},{"s":32,"t":1.4,"v":0.193},{"s":32,"t":1.9,"v":0.0843},{"s":32,"t":2.6,"v":0.0632},{"s":32,"t":3.5,"v":0.0531},{"s":32,"t":4.5,"v":0.0259}
],
"tle": [
{"g":"m","t":0.1,"v":0.73},{"g":"m","t":0.12,"v":0.85},{"g":"m","t":0.15,"v":0.96},{"g":"m","t":0.19,"v":1.08},{"g":"m","t":0.24,"v":1.14},{"g":"m","t":0.29,"v":1.18},{"g":"m","t":0.33,"v":1.21},{"g":"m","t":0.35,"v":1.23},{"g":"m","t":0.365,"v":1.24},{"g":"m","t":0.38,"v":1.2},{"g":"m","t":0.42,"v":1.12},{"g":"m","t":0.48,"v":1.02},{"g":"m","t":0.55,"v":0.94},{"g":"m","t":0.7,"v":0.79},{"g":"m","t":0.85,"v":0.64},{"g":"m","t":1.0,"v":0.545},{"g":"m","t":1.2,"v":0.44},{"g":"m","t":1.5,"v":0.33},{"g":"m","t":2.0,"v":0.22},{"g":"m","t":2.6,"v":0.149},{"g":"m","t":3.5,"v":0.095},{"g":"m","t":4.5,"v":0.065},
{"g":"hi","t":0.1,"v":1.98},{"g":"hi","t":0.12,"v":2.15},{"g":"hi","t":0.15,"v":2.29},{"g":"hi","t":0.19,"v":2.34},{"g":"hi","t":0.24,"v":2.2},{"g":"hi","t":0.29,"v":1.98},{"g":"hi","t":0.33,"v":1.72},{"g":"hi","t":0.35,"v":1.4},{"g":"hi","t":0.365,"v":1.24},{"g":"hi","t":0.38,"v":1.5},{"g":"hi","t":0.42,"v":1.72},{"g":"hi","t":0.48,"v":1.84},{"g":"hi","t":0.55,"v":1.86},{"g":"hi","t":0.7,"v":1.8},{"g":"hi","t":0.85,"v":1.6},{"g":"hi","t":1.0,"v":1.35},{"g":"hi","t":1.2,"v":1.15},{"g":"hi","t":1.5,"v":0.93},{"g":"hi","t":2.0,"v":0.66},{"g":"hi","t":2.6,"v":0.494},{"g":"hi","t":3.5,"v":0.344},{"g":"hi","t":4.5,"v":0.255},
{"g":"lo","t":0.1,"v":0.279},{"g":"lo","t":0.12,"v":0.35},{"g":"lo","t":0.15,"v":0.42},{"g":"lo","t":0.19,"v":0.5},{"g":"lo","t":0.24,"v":0.6},{"g":"lo","t":0.29,"v":0.76},{"g":"lo","t":0.33,"v":0.93},{"g":"lo","t":0.35,"v":1.08},{"g":"lo","t":0.365,"v":1.24},{"g":"lo","t":0.38,"v":1.0},{"g":"lo","t":0.42,"v":0.84},{"g":"lo","t":0.48,"v":0.68},{"g":"lo","t":0.55,"v":0.56},{"g":"lo","t":0.7,"v":0.35},{"g":"lo","t":0.85,"v":0.27},{"g":"lo","t":1.0,"v":0.22},{"g":"lo","t":1.2,"v":0.165},{"g":"lo","t":1.5,"v":0.121},{"g":"lo","t":2.0,"v":0.072},{"g":"lo","t":2.6,"v":0.046},{"g":"lo","t":3.5,"v":0.027},{"g":"lo","t":4.5,"v":0.0174}
],
"ble": [
{"g":"m","t":0.1,"v":0.67},{"g":"m","t":0.12,"v":0.74},{"g":"m","t":0.15,"v":0.81},{"g":"m","t":0.19,"v":0.9},{"g":"m","t":0.24,"v":0.975},{"g":"m","t":0.29,"v":1.0},{"g":"m","t":0.37,"v":1.0},{"g":"m","t":0.45,"v":0.95},{"g":"m","t":0.55,"v":0.9},{"g":"m","t":0.68,"v":0.81},{"g":"m","t":0.85,"v":0.64},{"g":"m","t":1.0,"v":0.53},{"g":"m","t":1.2,"v":0.41},{"g":"m","t":1.5,"v":0.3},{"g":"m","t":2.0,"v":0.19},{"g":"m","t":2.6,"v":0.126},{"g":"m","t":3.5,"v":0.083},{"g":"m","t":4.5,"v":0.059},
{"g":"hi","t":0.1,"v":1.89},{"g":"hi","t":0.12,"v":2.03},{"g":"hi","t":0.15,"v":2.17},{"g":"hi","t":0.19,"v":2.28},{"g":"hi","t":0.24,"v":2.27},{"g":"hi","t":0.29,"v":2.19},{"g":"hi","t":0.37,"v":1.95},{"g":"hi","t":0.45,"v":1.72},{"g":"hi","t":0.55,"v":1.56},{"g":"hi","t":0.68,"v":1.33},{"g":"hi","t":0.85,"v":1.15},{"g":"hi","t":1.0,"v":1.02},{"g":"hi","t":1.2,"v":0.875},{"g":"hi","t":1.5,"v":0.73},{"g":"hi","t":2.0,"v":0.51},{"g":"hi","t":2.6,"v":0.378},{"g":"hi","t":3.5,"v":0.282},{"g":"hi","t":4.5,"v":0.225},
{"g":"lo","t":0.1,"v":0.24},{"g":"lo","t":0.12,"v":0.3},{"g":"lo","t":0.15,"v":0.36},{"g":"lo","t":0.19,"v":0.41},{"g":"lo","t":0.24,"v":0.445},{"g":"lo","t":0.29,"v":0.48},{"g":"lo","t":0.37,"v":0.505},{"g":"lo","t":0.45,"v":0.515},{"g":"lo","t":0.55,"v":0.51},{"g":"lo","t":0.68,"v":0.44},{"g":"lo","t":0.85,"v":0.35},{"g":"lo","t":1.0,"v":0.3},{"g":"lo","t":1.2,"v":0.231},{"g":"lo","t":1.5,"v":0.165},{"g":"lo","t":2.0,"v":0.088},{"g":"lo","t":2.6,"v":0.049},{"g":"lo","t":3.5,"v":0.027},{"g":"lo","t":4.5,"v":0.017}
],
"trd": [
{"k":"Targeted","t":0.1,"v":0.5},{"k":"Targeted","t":0.108,"v":0.5},{"k":"Targeted","t":0.12,"v":0.48},{"k":"Targeted","t":0.14,"v":0.454},{"k":"Targeted","t":0.16,"v":0.432},{"k":"Targeted","t":0.18,"v":0.411},{"k":"Targeted","t":0.2,"v":0.39},{"k":"Targeted","t":0.23,"v":0.355},{"k":"Targeted","t":0.27,"v":0.301},{"k":"Targeted","t":0.3,"v":0.255},{"k":"Targeted","t":0.32,"v":0.22},{"k":"Targeted","t":0.336,"v":0.187},{"k":"Targeted","t":0.346,"v":0.155},{"k":"Targeted","t":0.355,"v":0.11},{"k":"Targeted","t":0.361,"v":0.07},{"k":"Targeted","t":0.366,"v":0.0},{"k":"Targeted","t":0.371,"v":0.05},{"k":"Targeted","t":0.377,"v":0.085},{"k":"Targeted","t":0.39,"v":0.12},{"k":"Targeted","t":0.41,"v":0.16},{"k":"Targeted","t":0.44,"v":0.206},{"k":"Targeted","t":0.48,"v":0.25},{"k":"Targeted","t":0.52,"v":0.287},{"k":"Targeted","t":0.62,"v":0.354},{"k":"Targeted","t":0.74,"v":0.411},{"k":"Targeted","t":0.85,"v":0.452},{"k":"Targeted","t":1.0,"v":0.5},{"k":"Targeted","t":1.26,"v":0.548},{"k":"Targeted","t":1.6,"v":0.6},{"k":"Targeted","t":1.7,"v":0.612},
{"k":"Selected","t":0.1,"v":0.478},{"k":"Selected","t":0.11,"v":0.472},{"k":"Selected","t":0.12,"v":0.468},{"k":"Selected","t":0.13,"v":0.467},{"k":"Selected","t":0.14,"v":0.457},{"k":"Selected","t":0.15,"v":0.44},{"k":"Selected","t":0.16,"v":0.422},{"k":"Selected","t":0.17,"v":0.407},{"k":"Selected","t":0.18,"v":0.404},{"k":"Selected","t":0.19,"v":0.407},{"k":"Selected","t":0.2,"v":0.39},{"k":"Selected","t":0.21,"v":0.365},{"k":"Selected","t":0.22,"v":0.342},{"k":"Selected","t":0.235,"v":0.332},{"k":"Selected","t":0.245,"v":0.347},{"k":"Selected","t":0.255,"v":0.33},{"k":"Selected","t":0.27,"v":0.3},{"k":"Selected","t":0.285,"v":0.272},{"k":"Selected","t":0.3,"v":0.26},{"k":"Selected","t":0.31,"v":0.258},{"k":"Selected","t":0.32,"v":0.24},{"k":"Selected","t":0.33,"v":0.21},{"k":"Selected","t":0.34,"v":0.17},{"k":"Selected","t":0.35,"v":0.1},{"k":"Selected","t":0.356,"v":0.04},{"k":"Selected","t":0.362,"v":0.07},{"k":"Selected","t":0.366,"v":0.01},{"k":"Selected","t":0.372,"v":0.04},{"k":"Selected","t":0.38,"v":0.1},{"k":"Selected","t":0.39,"v":0.15},{"k":"Selected","t":0.41,"v":0.2},{"k":"Selected","t":0.43,"v":0.23},{"k":"Selected","t":0.46,"v":0.25},{"k":"Selected","t":0.5,"v":0.27},{"k":"Selected","t":0.55,"v":0.31},{"k":"Selected","t":0.6,"v":0.345},{"k":"Selected","t":0.65,"v":0.375},{"k":"Selected","t":0.7,"v":0.405},{"k":"Selected","t":0.72,"v":0.432},{"k":"Selected","t":0.74,"v":0.43},{"k":"Selected","t":0.77,"v":0.41},{"k":"Selected","t":0.8,"v":0.412},{"k":"Selected","t":0.85,"v":0.432},{"k":"Selected","t":0.9,"v":0.45},{"k":"Selected","t":1.0,"v":0.48},{"k":"Selected","t":1.05,"v":0.49},{"k":"Selected","t":1.1,"v":0.51},{"k":"Selected","t":1.17,"v":0.53},{"k":"Selected","t":1.22,"v":0.545},{"k":"Selected","t":1.3,"v":0.54},{"k":"Selected","t":1.4,"v":0.545},{"k":"Selected","t":1.5,"v":0.56},{"k":"Selected","t":1.58,"v":0.575},{"k":"Selected","t":1.7,"v":0.58},{"k":"Selected","t":1.85,"v":0.6},{"k":"Selected","t":1.95,"v":0.61}
],
"brd": [
{"k":"Targeted","t":0.1,"v":0.527},{"k":"Targeted","t":0.109,"v":0.527},{"k":"Targeted","t":0.13,"v":0.506},{"k":"Targeted","t":0.156,"v":0.47},{"k":"Targeted","t":0.194,"v":0.444},{"k":"Targeted","t":0.242,"v":0.41},{"k":"Targeted","t":0.302,"v":0.381},{"k":"Targeted","t":0.361,"v":0.348},{"k":"Targeted","t":0.45,"v":0.324},{"k":"Targeted","t":0.56,"v":0.29},{"k":"Targeted","t":0.76,"v":0.29},{"k":"Targeted","t":1.0,"v":0.324},{"k":"Targeted","t":1.14,"v":0.381},{"k":"Targeted","t":1.36,"v":0.439},{"k":"Targeted","t":1.62,"v":0.482},{"k":"Targeted","t":2.02,"v":0.544},{"k":"Targeted","t":2.53,"v":0.583},{"k":"Targeted","t":2.95,"v":0.6},{"k":"Targeted","t":3.2,"v":0.61},
{"k":"Selected","t":0.1,"v":0.513},{"k":"Selected","t":0.105,"v":0.52},{"k":"Selected","t":0.11,"v":0.527},{"k":"Selected","t":0.115,"v":0.52},{"k":"Selected","t":0.12,"v":0.507},{"k":"Selected","t":0.13,"v":0.495},{"k":"Selected","t":0.14,"v":0.49},{"k":"Selected","t":0.145,"v":0.5},{"k":"Selected","t":0.155,"v":0.477},{"k":"Selected","t":0.165,"v":0.456},{"k":"Selected","t":0.175,"v":0.45},{"k":"Selected","t":0.19,"v":0.45},{"k":"Selected","t":0.2,"v":0.445},{"k":"Selected","t":0.21,"v":0.435},{"k":"Selected","t":0.22,"v":0.43},{"k":"Selected","t":0.23,"v":0.43},{"k":"Selected","t":0.24,"v":0.41},{"k":"Selected","t":0.25,"v":0.427},{"k":"Selected","t":0.26,"v":0.415},{"k":"Selected","t":0.28,"v":0.403},{"k":"Selected","t":0.3,"v":0.38},{"k":"Selected","t":0.32,"v":0.375},{"k":"Selected","t":0.34,"v":0.36},{"k":"Selected","t":0.36,"v":0.345},{"k":"Selected","t":0.38,"v":0.34},{"k":"Selected","t":0.4,"v":0.33},{"k":"Selected","t":0.42,"v":0.332},{"k":"Selected","t":0.45,"v":0.32},{"k":"Selected","t":0.48,"v":0.31},{"k":"Selected","t":0.5,"v":0.315},{"k":"Selected","t":0.52,"v":0.3},{"k":"Selected","t":0.55,"v":0.282},{"k":"Selected","t":0.6,"v":0.275},{"k":"Selected","t":0.63,"v":0.283},{"k":"Selected","t":0.66,"v":0.3},{"k":"Selected","t":0.7,"v":0.31},{"k":"Selected","t":0.74,"v":0.295},{"k":"Selected","t":0.78,"v":0.305},{"k":"Selected","t":0.82,"v":0.28},{"k":"Selected","t":0.87,"v":0.3},{"k":"Selected","t":0.92,"v":0.31},{"k":"Selected","t":1.0,"v":0.32},{"k":"Selected","t":1.05,"v":0.34},{"k":"Selected","t":1.1,"v":0.37},{"k":"Selected","t":1.15,"v":0.39},{"k":"Selected","t":1.25,"v":0.43},{"k":"Selected","t":1.35,"v":0.445},{"k":"Selected","t":1.5,"v":0.47},{"k":"Selected","t":1.6,"v":0.482},{"k":"Selected","t":1.7,"v":0.5},{"k":"Selected","t":1.85,"v":0.53},{"k":"Selected","t":2.0,"v":0.545},{"k":"Selected","t":2.2,"v":0.55},{"k":"Selected","t":2.4,"v":0.57},{"k":"Selected","t":2.6,"v":0.585},{"k":"Selected","t":2.8,"v":0.6},{"k":"Selected","t":3.0,"v":0.61}
]
},
"columns": 2,
"spacing": {"row": 64, "column": 57},
"bounds": "flush",
"concat": [
{
 "width": 287, "height": 209,
 "layer": [
  {"data": {"values": [{"a": 0.356, "b": 0.376}]}, "mark": {"type": "rect", "color": "#ff0000", "opacity": 0.5},
   "encoding": {"x": {"field": "a", "type": "quantitative", "scale": {"type": "log", "domain": [0.1, 4.5], "nice": false},
     "axis": {"title": "Period [s]", "values": [0.1,0.2,0.3,0.4,0.5,0.6,0.7,0.8,0.9,1,2,3,4], "labelExpr": "datum.value == 0.1 ? '10⁻¹' : datum.value == 1 ? '10⁰' : ''", "tickSize": {"condition": {"test": "datum.value == 0.1 || datum.value == 1", "value": 4}, "value": 2}, "gridOpacity": {"condition": {"test": "datum.value == 1", "value": 1}, "value": 0}, "labelOverlap": false, "labelFlush": false}},
    "x2": {"field": "b"}}},
  {"data": {"name": "tlg"}, "mark": {"type": "line", "color": "#008000", "strokeWidth": 0.9, "interpolate": "monotone", "clip": true},
   "encoding": {"x": {"field": "t", "type": "quantitative"},
    "y": {"field": "v", "type": "quantitative", "scale": {"type": "log", "domain": [0.01, 10], "nice": false},
     "axis": {"title": "Spectral Acceleration [g]", "titlePadding": 11, "labelPadding": 7, "values": [0.01,0.02,0.03,0.04,0.05,0.06,0.07,0.08,0.09,0.1,0.2,0.3,0.4,0.5,0.6,0.7,0.8,0.9,1,2,3,4,5,6,7,8,9,10], "labelExpr": "datum.value == 0.01 ? '10⁻²' : datum.value == 0.1 ? '10⁻¹' : datum.value == 1 ? '10⁰' : datum.value == 10 ? '10¹' : ''", "tickSize": {"condition": {"test": "datum.value == 0.01 || datum.value == 0.1 || datum.value == 1 || datum.value == 10", "value": 4}, "value": 2}, "gridOpacity": {"condition": {"test": "datum.value == 0.1 || datum.value == 1", "value": 1}, "value": 0}, "labelOverlap": false, "labelFlush": false}},
    "detail": {"field": "s", "type": "nominal"}}},
  {"data": {"name": "tle"}, "transform": [{"filter": "datum.g == 'm'"}], "mark": {"type": "line", "strokeWidth": 1.5, "interpolate": "monotone", "clip": true},
   "encoding": {"x": {"field": "t", "type": "quantitative"}, "y": {"field": "v", "type": "quantitative"},
    "color": {"datum": "Targeted Mean", "type": "nominal", "scale": {"domain": ["Targeted Mean", "Targeted ±2σ", "Selected Mean", "Selected ±2σ"], "range": ["#ff0000", "#ff0000", "#0000ff", "#0000ff"]}, "legend": {"orient": "bottom-left"}},
    "strokeDash": {"datum": "Targeted Mean", "type": "nominal", "scale": {"domain": ["Targeted Mean", "Targeted ±2σ", "Selected Mean", "Selected ±2σ"], "range": [[1,0],[9.6,2.4,1.5,2.4],[9.6,2.4,1.5,2.4],[5.5,2.4]]}, "legend": {"orient": "bottom-left"}}}},
  {"data": {"name": "tle"}, "transform": [{"filter": "datum.g != 'm'"}], "mark": {"type": "line", "strokeWidth": 1.5, "interpolate": "monotone", "clip": true},
   "encoding": {"x": {"field": "t", "type": "quantitative"}, "y": {"field": "v", "type": "quantitative"}, "detail": {"field": "g", "type": "nominal"},
    "color": {"datum": "Targeted ±2σ", "type": "nominal"}, "strokeDash": {"datum": "Targeted ±2σ", "type": "nominal"}}},
  {"data": {"name": "tle"}, "transform": [{"filter": "datum.g == 'm'"}], "mark": {"type": "line", "strokeWidth": 1.5, "interpolate": "monotone", "clip": true},
   "encoding": {"x": {"field": "t", "type": "quantitative"}, "y": {"field": "v", "type": "quantitative"},
    "color": {"datum": "Selected Mean", "type": "nominal"}, "strokeDash": {"datum": "Selected Mean", "type": "nominal"}}},
  {"data": {"name": "tle"}, "transform": [{"filter": "datum.g != 'm'"}], "mark": {"type": "line", "strokeWidth": 1.5, "interpolate": "monotone", "clip": true},
   "encoding": {"x": {"field": "t", "type": "quantitative"}, "y": {"field": "v", "type": "quantitative"}, "detail": {"field": "g", "type": "nominal"},
    "color": {"datum": "Selected ±2σ", "type": "nominal"}, "strokeDash": {"datum": "Selected ±2σ", "type": "nominal"}}}
 ]
},
{
 "width": 287, "height": 209,
 "layer": [
  {"data": {"values": [{"a": 0.356, "b": 0.376}]}, "mark": {"type": "rect", "color": "#ff0000", "opacity": 0.5},
   "encoding": {"x": {"field": "a", "type": "quantitative", "scale": {"type": "log", "domain": [0.1, 4.5], "nice": false},
     "axis": {"title": "Period [s]", "values": [0.1,0.2,0.3,0.4,0.5,0.6,0.7,0.8,0.9,1,2,3,4], "labelExpr": "datum.value == 0.1 ? '10⁻¹' : datum.value == 1 ? '10⁰' : ''", "tickSize": {"condition": {"test": "datum.value == 0.1 || datum.value == 1", "value": 4}, "value": 2}, "gridOpacity": {"condition": {"test": "datum.value == 1", "value": 1}, "value": 0}, "labelOverlap": false, "labelFlush": false}},
    "x2": {"field": "b"}}},
  {"data": {"name": "trd"}, "transform": [{"filter": "datum.k == 'Targeted'"}], "mark": {"type": "line", "strokeWidth": 1.5, "clip": true},
   "encoding": {"x": {"field": "t", "type": "quantitative"},
    "y": {"field": "v", "type": "quantitative", "scale": {"domain": [0, 0.6], "nice": false, "zero": false},
     "axis": {"title": "Dispersion", "titlePadding": 8, "labelPadding": 5.5, "values": [0,0.1,0.2,0.3,0.4,0.5,0.6], "tickCount": 7, "format": ".1f", "tickSize": 4.5, "labelOverlap": false, "labelFlush": false}},
    "color": {"field": "k", "type": "nominal", "scale": {"domain": ["Targeted", "Selected"], "range": ["#ff0000", "#0000ff"]}, "legend": {"orient": "bottom-left"}},
    "strokeDash": {"field": "k", "type": "nominal", "scale": {"domain": ["Targeted", "Selected"], "range": [[1,0],[9.6,2.4,1.5,2.4]]}, "legend": {"orient": "bottom-left"}}}},
  {"data": {"name": "trd"}, "transform": [{"filter": "datum.k == 'Selected'"}], "mark": {"type": "line", "strokeWidth": 1.5, "clip": true},
   "encoding": {"x": {"field": "t", "type": "quantitative"},
    "y": {"field": "v", "type": "quantitative", "axis": {"title": "Dispersion", "titlePadding": 8, "labelPadding": 5.5, "values": [0,0.1,0.2,0.3,0.4,0.5,0.6], "tickCount": 7, "format": ".1f", "tickSize": 4.5, "labelOverlap": false, "labelFlush": false}},
    "color": {"field": "k", "type": "nominal"}, "strokeDash": {"field": "k", "type": "nominal"}}}
 ]
},
{
 "width": 287, "height": 209,
 "layer": [
  {"data": {"values": [{"a": 0.156, "b": 1.131}]}, "mark": {"type": "rect", "color": "#ff0000", "opacity": 0.5},
   "encoding": {"x": {"field": "a", "type": "quantitative", "scale": {"type": "log", "domain": [0.1, 4.5], "nice": false},
     "axis": {"title": "Period [s]", "values": [0.1,0.2,0.3,0.4,0.5,0.6,0.7,0.8,0.9,1,2,3,4], "labelExpr": "datum.value == 0.1 ? '10⁻¹' : datum.value == 1 ? '10⁰' : ''", "tickSize": {"condition": {"test": "datum.value == 0.1 || datum.value == 1", "value": 4}, "value": 2}, "gridOpacity": {"condition": {"test": "datum.value == 1", "value": 1}, "value": 0}, "labelOverlap": false, "labelFlush": false}},
    "x2": {"field": "b"}}},
  {"data": {"name": "blg"}, "mark": {"type": "line", "color": "#008000", "strokeWidth": 0.9, "interpolate": "monotone", "clip": true},
   "encoding": {"x": {"field": "t", "type": "quantitative"},
    "y": {"field": "v", "type": "quantitative", "scale": {"type": "log", "domain": [0.01, 10], "nice": false},
     "axis": {"title": "Spectral Acceleration [g]", "titlePadding": 11, "labelPadding": 7, "values": [0.01,0.02,0.03,0.04,0.05,0.06,0.07,0.08,0.09,0.1,0.2,0.3,0.4,0.5,0.6,0.7,0.8,0.9,1,2,3,4,5,6,7,8,9,10], "labelExpr": "datum.value == 0.01 ? '10⁻²' : datum.value == 0.1 ? '10⁻¹' : datum.value == 1 ? '10⁰' : datum.value == 10 ? '10¹' : ''", "tickSize": {"condition": {"test": "datum.value == 0.01 || datum.value == 0.1 || datum.value == 1 || datum.value == 10", "value": 4}, "value": 2}, "gridOpacity": {"condition": {"test": "datum.value == 0.1 || datum.value == 1", "value": 1}, "value": 0}, "labelOverlap": false, "labelFlush": false}},
    "detail": {"field": "s", "type": "nominal"}}},
  {"data": {"name": "ble"}, "transform": [{"filter": "datum.g == 'm'"}], "mark": {"type": "line", "strokeWidth": 1.5, "interpolate": "monotone", "clip": true},
   "encoding": {"x": {"field": "t", "type": "quantitative"}, "y": {"field": "v", "type": "quantitative"},
    "color": {"datum": "Targeted Mean", "type": "nominal", "scale": {"domain": ["Targeted Mean", "Targeted ±2σ", "Selected Mean", "Selected ±2σ"], "range": ["#ff0000", "#ff0000", "#0000ff", "#0000ff"]}, "legend": {"orient": "top-right"}},
    "strokeDash": {"datum": "Targeted Mean", "type": "nominal", "scale": {"domain": ["Targeted Mean", "Targeted ±2σ", "Selected Mean", "Selected ±2σ"], "range": [[1,0],[9.6,2.4,1.5,2.4],[9.6,2.4,1.5,2.4],[5.5,2.4]]}, "legend": {"orient": "top-right"}}}},
  {"data": {"name": "ble"}, "transform": [{"filter": "datum.g != 'm'"}], "mark": {"type": "line", "strokeWidth": 1.5, "interpolate": "monotone", "clip": true},
   "encoding": {"x": {"field": "t", "type": "quantitative"}, "y": {"field": "v", "type": "quantitative"}, "detail": {"field": "g", "type": "nominal"},
    "color": {"datum": "Targeted ±2σ", "type": "nominal"}, "strokeDash": {"datum": "Targeted ±2σ", "type": "nominal"}}},
  {"data": {"name": "ble"}, "transform": [{"filter": "datum.g == 'm'"}], "mark": {"type": "line", "strokeWidth": 1.5, "interpolate": "monotone", "clip": true},
   "encoding": {"x": {"field": "t", "type": "quantitative"}, "y": {"field": "v", "type": "quantitative"},
    "color": {"datum": "Selected Mean", "type": "nominal"}, "strokeDash": {"datum": "Selected Mean", "type": "nominal"}}},
  {"data": {"name": "ble"}, "transform": [{"filter": "datum.g != 'm'"}], "mark": {"type": "line", "strokeWidth": 1.5, "interpolate": "monotone", "clip": true},
   "encoding": {"x": {"field": "t", "type": "quantitative"}, "y": {"field": "v", "type": "quantitative"}, "detail": {"field": "g", "type": "nominal"},
    "color": {"datum": "Selected ±2σ", "type": "nominal"}, "strokeDash": {"datum": "Selected ±2σ", "type": "nominal"}}}
 ]
},
{
 "width": 287, "height": 209,
 "layer": [
  {"data": {"values": [{"a": 0.156, "b": 1.131}]}, "mark": {"type": "rect", "color": "#ff0000", "opacity": 0.5},
   "encoding": {"x": {"field": "a", "type": "quantitative", "scale": {"type": "log", "domain": [0.1, 4.5], "nice": false},
     "axis": {"title": "Period [s]", "values": [0.1,0.2,0.3,0.4,0.5,0.6,0.7,0.8,0.9,1,2,3,4], "labelExpr": "datum.value == 0.1 ? '10⁻¹' : datum.value == 1 ? '10⁰' : ''", "tickSize": {"condition": {"test": "datum.value == 0.1 || datum.value == 1", "value": 4}, "value": 2}, "gridOpacity": {"condition": {"test": "datum.value == 1", "value": 1}, "value": 0}, "labelOverlap": false, "labelFlush": false}},
    "x2": {"field": "b"}}},
  {"data": {"name": "brd"}, "transform": [{"filter": "datum.k == 'Targeted'"}], "mark": {"type": "line", "strokeWidth": 1.5, "clip": true},
   "encoding": {"x": {"field": "t", "type": "quantitative"},
    "y": {"field": "v", "type": "quantitative", "scale": {"domain": [0, 0.6], "nice": false, "zero": false},
     "axis": {"title": "Dispersion", "titlePadding": 8, "labelPadding": 5.5, "values": [0,0.1,0.2,0.3,0.4,0.5,0.6], "tickCount": 7, "format": ".1f", "tickSize": 4.5, "labelOverlap": false, "labelFlush": false}},
    "color": {"field": "k", "type": "nominal", "scale": {"domain": ["Targeted", "Selected"], "range": ["#ff0000", "#0000ff"]}, "legend": {"orient": "bottom-right"}},
    "strokeDash": {"field": "k", "type": "nominal", "scale": {"domain": ["Targeted", "Selected"], "range": [[1,0],[9.6,2.4,1.5,2.4]]}, "legend": {"orient": "bottom-right"}}}},
  {"data": {"name": "brd"}, "transform": [{"filter": "datum.k == 'Selected'"}], "mark": {"type": "line", "strokeWidth": 1.5, "clip": true},
   "encoding": {"x": {"field": "t", "type": "quantitative"},
    "y": {"field": "v", "type": "quantitative", "axis": {"title": "Dispersion", "titlePadding": 8, "labelPadding": 5.5, "values": [0,0.1,0.2,0.3,0.4,0.5,0.6], "tickCount": 7, "format": ".1f", "tickSize": 4.5, "labelOverlap": false, "labelFlush": false}},
    "color": {"field": "k", "type": "nominal"}, "strokeDash": {"field": "k", "type": "nominal"}}}
 ]
}
]
}
